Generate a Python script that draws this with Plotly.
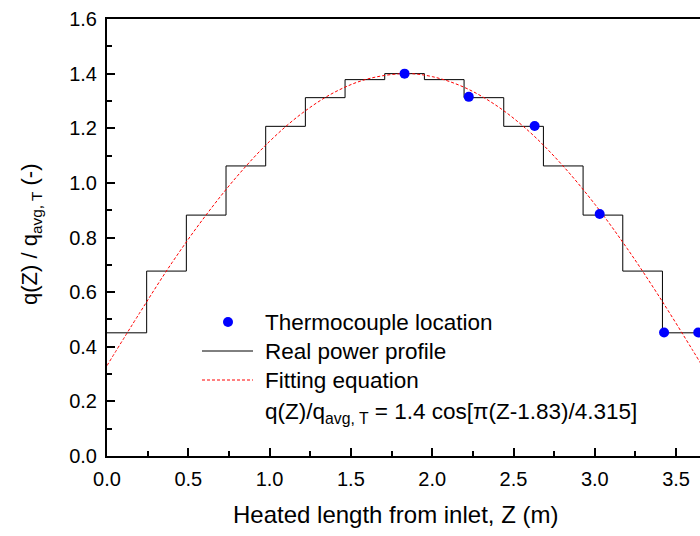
import plotly.graph_objects as go

# Real power profile: 15 axial steps (edges and relative power per step)
step_edges = [0.0, 0.244, 0.488, 0.732, 0.976, 1.22, 1.464, 1.708, 1.952,
              2.196, 2.44, 2.684, 2.928, 3.172, 3.416, 3.66]
step_values = [0.451, 0.677, 0.882, 1.062, 1.207, 1.312, 1.378, 1.400,
               1.378, 1.312, 1.207, 1.062, 0.882, 0.677, 0.451]

# Thermocouple locations
tc_z = [1.83, 2.225, 2.63, 3.03, 3.426, 3.636]
tc_q = [1.400, 1.315, 1.208, 0.886, 0.452, 0.452]

# Fitting equation curve
fit_z = [0.0, 0.2, 0.4, 0.6, 0.8, 1.0, 1.2, 1.4, 1.6, 1.83, 2.0, 2.2,
         2.4, 2.6, 2.8, 3.0, 3.2, 3.4, 3.6, 3.7]
fit_q = [0.331, 0.523, 0.708, 0.875, 1.024, 1.152, 1.255, 1.332, 1.380,
         1.400, 1.389, 1.349, 1.281, 1.186, 1.065, 0.922, 0.759, 0.580,
         0.389, 0.291]

legend_texts = ["Thermocouple location", "Real power profile", "Fitting equation"]
equation_text = "q(Z)/q<sub>avg, T</sub> = 1.4 cos[\u03c0(Z-1.83)/4.315]"
x_title = "Heated length from inlet, Z (m)"
y_title = "q(Z) / q<sub>avg, T</sub> (-)"

FONT = "Arial, Liberation Sans, sans-serif"

fig = go.Figure()
fig.add_trace(go.Scatter(
    x=step_edges, y=step_values + [step_values[-1]], mode="lines",
    line=dict(color="black", width=1, shape="hv"), showlegend=False))
fig.add_trace(go.Scatter(
    x=fit_z, y=fit_q, mode="lines",
    line=dict(color="red", width=1, dash="3px,2px", shape="spline"),
    showlegend=False))
fig.add_trace(go.Scatter(
    x=tc_z, y=tc_q, mode="markers",
    marker=dict(color="#0000FF", size=10), showlegend=False))

W, H = 700, 536
L, R, T, B = 107, 0, 19, 80
PW, PH = W - L - R, H - T - B


def px(x):  # page pixel -> paper
    return (x - L) / PW


def py(y):
    return (H - B - y) / PH


# manual legend
fig.add_shape(type="circle", xref="paper", yref="paper",
              x0=px(223), x1=px(233), y0=py(327), y1=py(317),
              fillcolor="#0000FF", line=dict(width=0))
fig.add_shape(type="line", xref="paper", yref="paper",
              x0=px(202), x1=px(253), y0=py(351), y1=py(351),
              line=dict(color="black", width=1))
fig.add_shape(type="line", xref="paper", yref="paper",
              x0=px(202), x1=px(253), y0=py(380), y1=py(380),
              line=dict(color="red", width=1, dash="3px,2px"))
legend_y = [322, 351, 380]
for t, yy in zip(legend_texts, legend_y):
    fig.add_annotation(text=t, xref="paper", yref="paper", x=px(263), y=py(yy),
                       xanchor="left", yanchor="middle", showarrow=False,
                       font=dict(size=22.5, family=FONT, color="black"))
fig.add_annotation(text=equation_text,
                   xref="paper", yref="paper", x=px(263), y=py(413),
                   xanchor="left", yanchor="middle", showarrow=False,
                   font=dict(size=22.5, family=FONT, color="black"))

# axis titles
fig.add_annotation(text=x_title, xref="paper", yref="paper", x=px(395), y=py(514),
                   xanchor="center", yanchor="middle", showarrow=False,
                   font=dict(size=24, family=FONT, color="black"))
fig.add_annotation(text=y_title, xref="paper", yref="paper", x=px(31), y=py(234),
                   xanchor="center", yanchor="middle", showarrow=False, textangle=-90,
                   font=dict(size=22, family=FONT, color="black"))

fig.update_xaxes(
    range=[0, PW / 162.6], dtick=0.5, tick0=0, tickformat=".1f",
    ticks="inside", ticklen=8, tickwidth=2, tickcolor="black",
    showline=True, linewidth=2, linecolor="black", mirror=True,
    showgrid=False, zeroline=False,
    minor=dict(ticks="inside", ticklen=5, tickwidth=2, tickcolor="black", dtick=0.25),
    tickfont=dict(size=20, family=FONT, color="black"),
    ticklabelstandoff=4,
)
fig.update_yaxes(
    range=[0, 1.6], dtick=0.2, tick0=0, tickformat=".1f",
    ticks="inside", ticklen=8, tickwidth=2, tickcolor="black",
    showline=True, linewidth=2, linecolor="black", mirror=False,
    showgrid=False, zeroline=False,
    minor=dict(ticks="inside", ticklen=5, tickwidth=2, tickcolor="black", dtick=0.1),
    tickfont=dict(size=20, family=FONT, color="black"),
    ticklabelstandoff=4,
)
fig.update_layout(
    width=W, height=H, margin=dict(l=L, r=R, t=T, b=B, autoexpand=False),
    plot_bgcolor="white", paper_bgcolor="white",
)
fig.write_html(
    "out.html",
    config={"displayModeBar": False},
    post_script="document.body.style.margin='0';document.body.style.overflow='hidden';",
)
